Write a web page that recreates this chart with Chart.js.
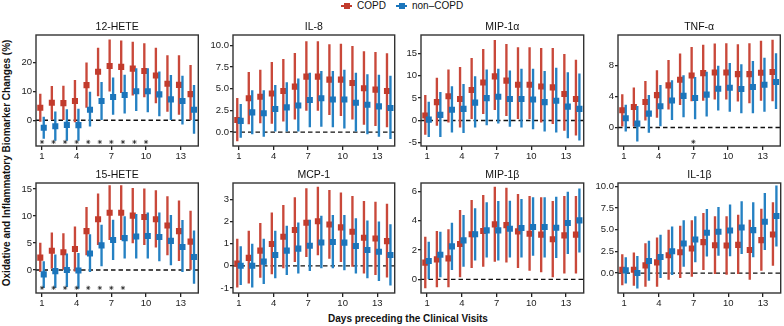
<!DOCTYPE html>
<html>
<head>
<meta charset="utf-8">
<script src="https://cdn.jsdelivr.net/npm/chart.js@4.4.1/dist/chart.umd.min.js"></script>
<style>
    body {
        margin: 0;
        width: 784px;
        height: 326px;
        background: #fff;
        position: relative;
        overflow: hidden;
        font-family: "Liberation Sans", Arial, sans-serif;
        color: #111;
    }
    canvas.panel { position: absolute; }
    .keyline { position: absolute; height: 2px; width: 11px; top: 5px; }
    .keysq { position: absolute; width: 6px; height: 6px; top: 3px; }
    .keytext { position: absolute; top: 0; font-size: 10px; line-height: 12px; white-space: nowrap; }
    #ytitle {
        position: absolute; left: 6px; top: 163px;
        transform: translate(-50%, -50%) rotate(-90deg);
        font-weight: bold; font-size: 10px; white-space: nowrap;
    }
    #xtitle {
        position: absolute; left: 408px; top: 313px;
        transform: translateX(-50%);
        font-weight: bold; font-size: 10px; white-space: nowrap;
    }
</style>
</head>
<body>
<div class="keyline" style="left:341px;background:#C23B2C"></div>
<div class="keysq" style="left:343.5px;background:#C23B2C"></div>
<div class="keytext" style="left:357px">COPD</div>
<div class="keyline" style="left:396px;background:#1B75BB"></div>
<div class="keysq" style="left:398.5px;background:#1B75BB"></div>
<div class="keytext" style="left:412px">non–COPD</div>
<div id="ytitle">Oxidative and Inflammatory Biomarker Changes (%)</div>
<div id="xtitle">Days preceding the Clinical Visits</div>

<script>
const days = [1, 2, 3, 4, 5, 6, 7, 8, 9, 10, 11, 12, 13, 14];
const xTicks = [1, 4, 7, 10, 13];

// 12-HETE
const copd_12HETE = [4.3, 6.0, 5.9, 6.6, 12.1, 16.7, 18.7, 18.4, 17.8, 17.0, 15.4, 12.6, 12.2, 9.0];
const copdHi_12HETE = [9.0, 11.7, 11.8, 13.8, 19.8, 24.9, 27.7, 27.4, 27.0, 26.4, 24.9, 22.3, 22.3, 18.9];
const copdLo_12HETE = [-0.4, 0.3, 0.0, -0.6, 4.4, 8.4, 10.0, 9.5, 8.6, 8.0, 6.0, 3.0, 2.0, 0.0];
const non_12HETE = [-2.6, -2.1, -1.6, -1.7, 3.6, 6.6, 8.0, 8.7, 10.0, 10.0, 8.9, 7.2, 6.6, 3.6];
const nonHi_12HETE = [1.1, 2.9, 3.7, 3.8, 9.7, 13.1, 14.6, 15.6, 17.8, 17.8, 16.7, 15.5, 15.2, 12.0];
const nonLo_12HETE = [-6.3, -7.0, -7.0, -7.0, -2.1, 0.0, 2.0, 2.4, 3.3, 2.9, 1.5, 0.0, -1.4, -4.6];
const stars_12HETE = [1, 2, 3, 4, 5, 6, 7, 8, 9, 10];

// IL-8
const copd_IL8 = [1.4, 3.9, 4.07, 4.45, 4.75, 5.25, 6.4, 6.4, 6.05, 6.05, 5.67, 5.06, 4.9, 4.75];
const copdHi_IL8 = [3.9, 6.9, 7.15, 8.06, 8.4, 9.1, 10.45, 10.45, 10.1, 10.15, 9.9, 9.3, 9.2, 9.05];
const copdLo_IL8 = [-1.0, 0.95, 1.06, 1.0, 1.25, 1.5, 2.5, 2.5, 2.0, 1.9, 1.5, 0.9, 0.75, 0.6];
const non_IL8 = [1.3, 2.28, 2.17, 2.66, 2.85, 3.08, 3.7, 3.9, 3.76, 3.76, 3.38, 3.15, 2.97, 2.78];
const nonHi_IL8 = [3.2, 4.8, 4.8, 5.4, 5.7, 6.16, 6.8, 7.0, 7.0, 7.15, 6.8, 6.65, 6.58, 6.46];
const nonLo_IL8 = [-0.6, -0.2, -0.5, 0.1, 0.1, 0.1, 0.6, 0.65, 0.6, 0.45, 0.1, -0.2, -0.5, -0.76];

// MIP-1α
const copd_MIP1a = [1.1, 4.1, 5.4, 4.8, 6.8, 8.5, 9.85, 8.9, 8.0, 8.0, 7.6, 7.4, 5.9, 4.8];
const copdHi_MIP1a = [5.6, 9.5, 11.3, 11.9, 13.9, 15.9, 17.9, 17.0, 16.3, 16.3, 16.1, 16.1, 14.8, 13.5];
const copdLo_MIP1a = [-3.1, -1.1, -0.4, -1.5, 0.4, 1.5, 2.4, 1.1, 0.4, 0.4, -0.4, -0.7, -2.2, -3.3];
const non_MIP1a = [0.2, 1.26, 2.4, 2.6, 4.0, 5.0, 5.3, 4.8, 4.8, 4.7, 4.1, 4.4, 3.1, 2.6];
const nonHi_MIP1a = [4.1, 6.3, 7.6, 8.1, 9.8, 11.3, 11.5, 11.1, 11.5, 11.5, 11.0, 11.7, 10.7, 10.4];
const nonLo_MIP1a = [-3.6, -3.6, -2.6, -2.7, -1.5, -1.0, -0.6, -1.3, -1.5, -1.9, -2.4, -2.6, -3.9, -4.4];

// TNF-α
const copd_TNFa = [2.24, 2.67, 3.31, 4.2, 5.46, 6.2, 6.75, 7.05, 7.14, 7.14, 6.92, 6.92, 7.1, 7.2];
const copdHi_TNFa = [4.26, 5.16, 6.0, 7.4, 8.7, 9.55, 10.4, 10.7, 10.84, 10.9, 10.75, 10.9, 11.2, 11.35];
const copdLo_TNFa = [0.17, 0.17, 0.95, 1.3, 2.37, 2.97, 3.44, 3.5, 3.66, 3.66, 3.4, 3.2, 3.5, 3.44];
const non_TNFa = [1.2, 0.5, 1.8, 2.75, 3.5, 4.1, 3.83, 4.26, 5.03, 5.16, 5.0, 5.25, 5.55, 5.9];
const nonHi_TNFa = [2.9, 2.75, 4.17, 5.46, 6.1, 6.75, 6.5, 7.2, 7.96, 8.34, 8.17, 8.6, 9.0, 9.6];
const nonLo_TNFa = [-0.47, -1.76, -0.65, 0.2, 1.03, 1.38, 1.1, 1.46, 2.24, 2.1, 1.9, 1.9, 2.1, 2.45];
const stars_TNFa = [7];

// 15-HETE
const copd_15HETE = [2.3, 3.56, 3.3, 3.9, 7.2, 9.4, 10.6, 10.6, 10.06, 9.8, 9.4, 8.25, 7.2, 5.25];
const copdHi_15HETE = [5.0, 6.9, 6.75, 8.0, 11.6, 14.1, 15.6, 15.6, 15.1, 15.0, 14.7, 13.6, 12.8, 10.9];
const copdLo_15HETE = [-0.3, 0.3, 0.0, -0.2, 2.8, 4.7, 5.6, 5.6, 5.0, 4.7, 4.25, 2.8, 1.75, 0.0];
const non_15HETE = [-0.8, -0.2, 0.0, -0.1, 3.06, 4.56, 5.56, 5.9, 6.2, 6.3, 6.1, 5.4, 4.25, 2.4];
const nonHi_15HETE = [1.56, 2.8, 3.0, 3.1, 6.56, 8.3, 9.25, 9.9, 10.3, 10.6, 10.6, 10.1, 9.2, 7.25];
const nonLo_15HETE = [-3.25, -3.25, -3.1, -3.4, -0.3, 0.75, 1.9, 2.2, 2.2, 2.2, 1.7, 0.94, -0.3, -2.5];
const stars_15HETE = [1, 2, 3, 4, 5, 6, 7, 8];

// MCP-1
const copd_MCP1 = [0.1, 0.36, 0.69, 0.99, 1.32, 1.62, 1.95, 2.02, 1.87, 1.74, 1.54, 1.27, 1.24, 1.12];
const copdHi_MCP1 = [1.21, 1.57, 1.92, 2.4, 2.74, 3.09, 3.5, 3.57, 3.42, 3.31, 3.15, 2.92, 2.89, 2.79];
const copdLo_MCP1 = [-0.97, -0.78, -0.52, -0.37, -0.1, 0.19, 0.42, 0.49, 0.34, 0.19, -0.03, -0.33, -0.4, -0.51];
const non_MCP1 = [0.0, 0.0, 0.19, 0.49, 0.69, 0.78, 0.91, 1.06, 1.08, 1.05, 0.9, 0.72, 0.64, 0.49];
const nonHi_MCP1 = [0.87, 0.99, 1.21, 1.57, 1.8, 1.95, 2.07, 2.25, 2.29, 2.29, 2.14, 2.04, 1.99, 1.87];
const nonLo_MCP1 = [-0.85, -0.97, -0.81, -0.55, -0.4, -0.33, -0.22, -0.1, -0.1, -0.18, -0.33, -0.55, -0.67, -0.88];

// MIP-1β
const copd_MIP1b = [1.14, 1.36, 1.43, 2.41, 3.07, 3.3, 3.75, 3.7, 3.27, 3.11, 3.05, 2.73, 3.0, 3.05];
const copdHi_MIP1b = [2.89, 3.27, 3.39, 4.7, 5.39, 5.73, 6.3, 6.23, 5.8, 5.66, 5.57, 5.32, 5.66, 5.66];
const copdLo_MIP1b = [-0.59, -0.52, -0.52, 0.16, 0.8, 0.89, 1.23, 1.18, 0.8, 0.61, 0.5, 0.16, 0.43, 0.43];
const non_MIP1b = [1.25, 1.68, 2.25, 2.66, 3.07, 3.34, 3.34, 3.45, 3.5, 3.57, 3.57, 3.52, 3.84, 4.02];
const nonHi_MIP1b = [2.55, 3.23, 3.84, 4.36, 4.82, 5.23, 5.32, 5.34, 5.45, 5.57, 5.57, 5.61, 5.95, 6.18];
const nonLo_MIP1b = [0.0, 0.16, 0.66, 0.89, 1.3, 1.52, 1.3, 1.52, 1.52, 1.64, 1.52, 1.48, 1.75, 1.86];

// IL-1β
const copd_IL1b = [0.39, 0.39, 0.89, 1.24, 2.05, 2.4, 2.83, 3.57, 3.22, 3.18, 3.26, 2.67, 3.8, 4.46];
const copdHi_IL1b = [2.13, 2.33, 3.41, 4.07, 4.96, 5.43, 6.05, 6.9, 6.51, 6.51, 6.7, 6.12, 7.4, 8.14];
const copdLo_IL1b = [-1.36, -1.43, -1.55, -1.55, -0.74, -0.54, -0.39, 0.39, -0.08, -0.16, -0.08, -0.74, 0.31, 0.89];
const non_IL1b = [0.31, 0.0, 1.4, 1.86, 2.52, 3.41, 3.88, 4.65, 4.77, 4.92, 5.27, 4.96, 5.93, 6.59];
const nonHi_IL1b = [1.78, 1.94, 3.68, 4.38, 5.35, 6.05, 6.51, 7.36, 7.6, 7.87, 8.26, 8.14, 9.22, 10.08];
const nonLo_IL1b = [-1.16, -1.74, -0.85, -0.54, -0.19, 0.78, 1.28, 1.94, 2.05, 1.98, 2.25, 1.86, 2.71, 3.1];

const RED = '#C23B2C';
const BLUE = '#1B75BB';
const RED_BAR = '#C9483A';
const BLUE_BAR = '#2581C3';
const X_MIN = 0.48, X_MAX = 14.52;
const DODGE = 0.15;

const colLeft = [36, 233, 421, 618];
const colRight = [201, 397, 586, 783];
const rowTop = [35, 183];
const rowBottom = [146, 293];

const panels = [
    {title: '12-HETE', row: 0, col: 0, copd: copd_12HETE, copdLo: copdLo_12HETE, copdHi: copdHi_12HETE,
        non: non_12HETE, nonLo: nonLo_12HETE, nonHi: nonHi_12HETE, yMin: -8.9, yMax: 29.4, yTicks: [0, 10, 20], dec: 0,
        stars: stars_12HETE, starY: -7.5},
    {title: 'IL-8', row: 0, col: 1, copd: copd_IL8, copdLo: copdLo_IL8, copdHi: copdHi_IL8,
        non: non_IL8, nonLo: nonLo_IL8, nonHi: nonHi_IL8, yMin: -1.6, yMax: 11.2, yTicks: [0, 2.5, 5, 7.5, 10], dec: 1,
        stars: [], starY: 0},
    {title: 'MIP-1α', row: 0, col: 2, copd: copd_MIP1a, copdLo: copdLo_MIP1a, copdHi: copdHi_MIP1a,
        non: non_MIP1a, nonLo: nonLo_MIP1a, nonHi: nonHi_MIP1a, yMin: -5.7, yMax: 19.1, yTicks: [-5, 0, 5, 10, 15], dec: 0,
        stars: [], starY: 0},
    {title: 'TNF-α', row: 0, col: 3, copd: copd_TNFa, copdLo: copdLo_TNFa, copdHi: copdHi_TNFa,
        non: non_TNFa, nonLo: nonLo_TNFa, nonHi: nonHi_TNFa, yMin: -2.4, yMax: 12, yTicks: [0, 4, 8], dec: 0,
        stars: stars_TNFa, starY: -1.85},
    {title: '15-HETE', row: 1, col: 0, copd: copd_15HETE, copdLo: copdLo_15HETE, copdHi: copdHi_15HETE,
        non: non_15HETE, nonLo: nonLo_15HETE, nonHi: nonHi_15HETE, yMin: -4.25, yMax: 16.1, yTicks: [0, 5, 10, 15], dec: 0,
        stars: stars_15HETE, starY: -3.3},
    {title: 'MCP-1', row: 1, col: 1, copd: copd_MCP1, copdLo: copdLo_MCP1, copdHi: copdHi_MCP1,
        non: non_MCP1, nonLo: nonLo_MCP1, nonHi: nonHi_MCP1, yMin: -1.23, yMax: 3.75, yTicks: [-1, 0, 1, 2, 3], dec: 0,
        stars: [], starY: 0},
    {title: 'MIP-1β', row: 1, col: 2, copd: copd_MIP1b, copdLo: copdLo_MIP1b, copdHi: copdHi_MIP1b,
        non: non_MIP1b, nonLo: nonLo_MIP1b, nonHi: nonHi_MIP1b, yMin: -0.93, yMax: 6.57, yTicks: [0, 2, 4, 6], dec: 0,
        stars: [], starY: 0},
    {title: 'IL-1β', row: 1, col: 3, copd: copd_IL1b, copdLo: copdLo_IL1b, copdHi: copdHi_IL1b,
        non: non_IL1b, nonLo: nonLo_IL1b, nonHi: nonHi_IL1b, yMin: -2.3, yMax: 10.4, yTicks: [0, 2.5, 5, 7.5, 10], dec: 1,
        stars: [], starY: 0}
];

Chart.defaults.font.family = '"Liberation Sans", Arial, sans-serif';

// frame around the plot area + panel title
const panelDecor = {
    id: 'panelDecor',
    afterDatasetsDraw(chart, args, opts) {
        const {ctx, chartArea: a} = chart;
        ctx.save();
        ctx.strokeStyle = '#333';
        ctx.lineWidth = 1.4;
        ctx.strokeRect(a.left, a.top, a.right - a.left, a.bottom - a.top);
        ctx.fillStyle = '#111';
        ctx.font = '10.5px "Liberation Sans", Arial, sans-serif';
        ctx.textAlign = 'center';
        ctx.textBaseline = 'alphabetic';
        ctx.fillText(opts.text, (a.left + a.right) / 2, a.top - 5);
        ctx.restore();
    }
};

const PAD_TOP = 22, AXIS_W = 32, AXIS_H = 20, PAD_RIGHT = 2;

function errorBars(lo, hi, shift, color, order) {
    return {
        type: 'bar',
        data: days.map((d, i) => ({x: d + shift, y: [lo[i], hi[i]]})),
        backgroundColor: color,
        borderWidth: 0,
        grouped: false,
        maxBarThickness: 1.7,
        barPercentage: 1,
        categoryPercentage: 1,
        order: order
    };
}

function squares(vals, shift, color, order) {
    return {
        type: 'scatter',
        data: days.map((d, i) => ({x: d + shift, y: vals[i]})),
        pointStyle: 'rect',
        pointRadius: 4.3,
        backgroundColor: color,
        borderWidth: 0,
        order: order
    };
}

function makePanel(p) {
    const L = colLeft[p.col], R = colRight[p.col], T = rowTop[p.row], B = rowBottom[p.row];
    const w = R - L + AXIS_W + PAD_RIGHT;
    const h = B - T + PAD_TOP + AXIS_H;
    const canvas = document.createElement('canvas');
    canvas.className = 'panel';
    canvas.width = w;
    canvas.height = h;
    canvas.style.left = (L - AXIS_W) + 'px';
    canvas.style.top = (T - PAD_TOP) + 'px';
    canvas.style.width = w + 'px';
    canvas.style.height = h + 'px';
    document.body.appendChild(canvas);

    new Chart(canvas, {
        type: 'scatter',
        data: {
            datasets: [
                {
                    type: 'line',
                    data: [{x: X_MIN, y: 0}, {x: X_MAX, y: 0}],
                    borderColor: '#111',
                    borderWidth: 1.4,
                    borderDash: [4.5, 3],
                    pointRadius: 0,
                    order: 5
                },
                // significance stars sit on top of everything
                {
                    type: 'scatter',
                    data: p.stars.map(d => ({x: d, y: p.starY})),
                    pointStyle: 'star',
                    pointRadius: 2.1,
                    borderColor: '#222',
                    borderWidth: 0.7,
                    order: -1
                },
                errorBars(p.copdLo, p.copdHi, -DODGE, RED_BAR, 3),
                squares(p.copd, -DODGE, RED, 2),
                errorBars(p.nonLo, p.nonHi, DODGE, BLUE_BAR, 1),
                squares(p.non, DODGE, BLUE, 0)
            ]
        },
        options: {
            responsive: false,
            animation: false,
            events: [],
            layout: {padding: {top: PAD_TOP, right: PAD_RIGHT, left: 0, bottom: 0}},
            plugins: {
                legend: {display: false},
                tooltip: {enabled: false},
                panelDecor: {text: p.title}
            },
            scales: {
                x: {
                    type: 'linear',
                    min: X_MIN,
                    max: X_MAX,
                    offset: false,
                    afterBuildTicks: s => { s.ticks = xTicks.map(v => ({value: v})); },
                    afterFit: s => { s.height = AXIS_H; },
                    grid: {display: true, drawOnChartArea: false, drawTicks: true, tickLength: 4, color: '#222', lineWidth: 1.3, offset: false},
                    border: {display: false},
                    ticks: {font: {size: 9.5}, color: '#222', padding: 1, maxRotation: 0, autoSkip: false}
                },
                y: {
                    type: 'linear',
                    min: p.yMin,
                    max: p.yMax,
                    afterBuildTicks: s => { s.ticks = p.yTicks.map(v => ({value: v})); },
                    afterFit: s => { s.width = AXIS_W; },
                    grid: {display: true, drawOnChartArea: false, drawTicks: true, tickLength: 3, color: '#222', lineWidth: 1.3},
                    border: {display: false},
                    ticks: {
                        font: {size: 9.5},
                        color: '#222',
                        padding: 1,
                        autoSkip: false,
                        callback: v => v.toFixed(p.dec)
                    }
                }
            }
        },
        plugins: [panelDecor]
    });
}

panels.forEach(makePanel);
</script>
</body>
</html>
